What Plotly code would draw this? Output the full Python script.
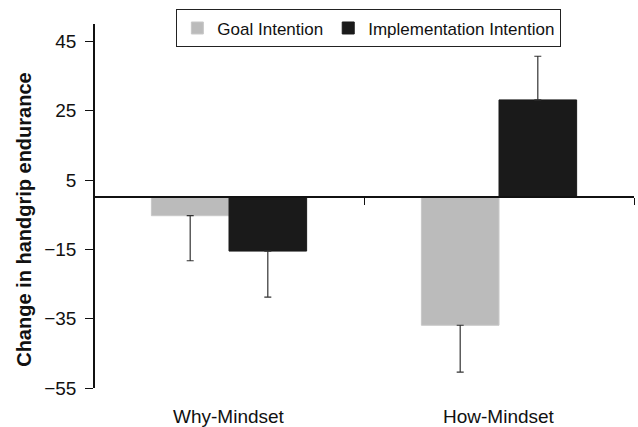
import plotly.graph_objects as go

categories = ["Why-Mindset", "How-Mindset"]
series_names = ["Goal Intention", "Implementation Intention"]
goal_values = [-5.3, -36.9]
impl_values = [-15.5, 28.1]
goal_err_plus = [0, 0]
goal_err_minus = [13.0, 13.5]
impl_err_plus = [0, 12.6]
impl_err_minus = [13.3, 0]
y_tick_vals = [-55, -35, -15, 5, 25, 45]

FONT = "Liberation Sans, Arial, sans-serif"

fig = go.Figure()
fig.add_trace(go.Bar(
    name=series_names[0], x=categories, y=goal_values,
    marker=dict(color="#bbbbbb", line=dict(color="#c8c8c8", width=1)),
    error_y=dict(type="data", symmetric=False, array=goal_err_plus,
                 arrayminus=goal_err_minus, color="#333333", thickness=1.2, width=3.5),
))
fig.add_trace(go.Bar(
    name=series_names[1], x=categories, y=impl_values,
    marker=dict(color="#1a1a1a", line=dict(color="#1a1a1a", width=1)),
    error_y=dict(type="data", symmetric=False, array=impl_err_plus,
                 arrayminus=impl_err_minus, color="#333333", thickness=1.2, width=3.5),
))

zero_pos = (0 - (-55)) / (50 - (-55))

fig.update_layout(
    width=638, height=427,
    margin=dict(l=94, r=4, t=24, b=39),
    paper_bgcolor="white", plot_bgcolor="white",
    barmode="group", bargap=0.425, bargroupgap=0,
    font=dict(family=FONT, size=18, color="#111111"),
    showlegend=True,
    legend=dict(
        orientation="h", x=0.509, xanchor="center", y=1.04, yanchor="top",
        bordercolor="#222222", borderwidth=1, bgcolor="white",
        font=dict(family=FONT, size=17, color="#111111"),
        itemwidth=30, tracegroupgap=0,
    ),
    xaxis=dict(
        type="category", anchor="free", position=zero_pos,
        showline=True, linecolor="#111111", linewidth=1.5,
        ticks="outside", tickson="boundaries", ticklen=7, tickcolor="#111111",
        showticklabels=False, showgrid=False, zeroline=False,
    ),
    yaxis=dict(
        range=[-55, 50], tickmode="array", tickvals=y_tick_vals,
        anchor="free", position=0,
        showline=True, linecolor="#111111", linewidth=1.5,
        ticks="outside", ticklen=8, tickcolor="#111111",
        showgrid=False, zeroline=False,
        tickfont=dict(family=FONT, size=19, color="#111111"),
        ticklabelstandoff=5,
    ),
)

for cat in categories:
    fig.add_annotation(
        x=cat, xref="x", y=0, yref="paper", yanchor="top", yshift=-16,
        text=cat, showarrow=False,
        font=dict(family=FONT, size=19, color="#111111"),
    )

fig.add_annotation(
    x=-0.13, xref="paper", y=0.4615, yref="paper",
    xanchor="center", yanchor="middle", textangle=-90,
    text="<b>Change in handgrip endurance</b>", showarrow=False,
    font=dict(family=FONT, size=20, color="#111111"),
)

fig.write_html("out.html")
